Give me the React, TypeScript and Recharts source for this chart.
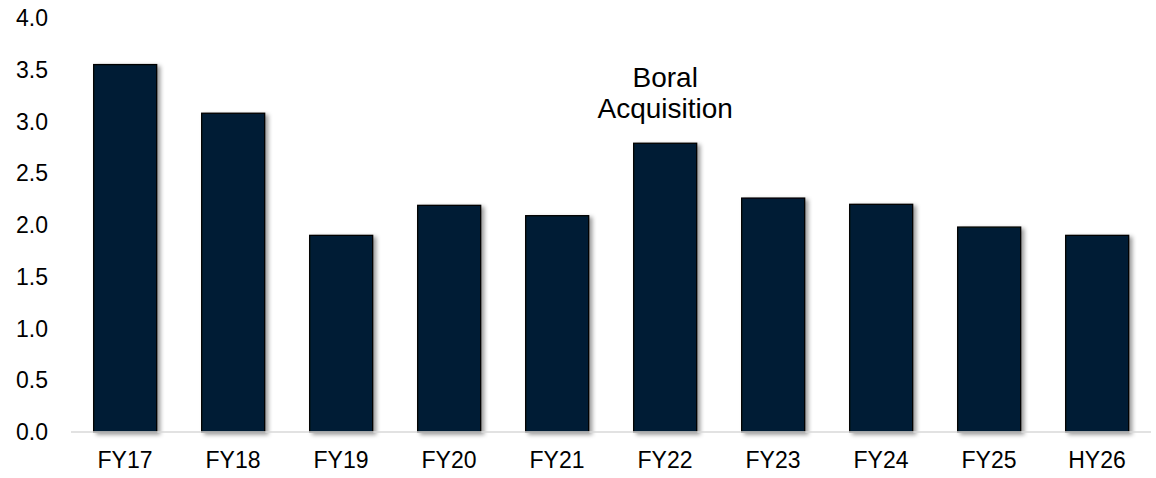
import React from "react";
import { BarChart, Bar, XAxis, YAxis, LabelList } from "recharts";

const categories = ["FY17", "FY18", "FY19", "FY20", "FY21", "FY22", "FY23", "FY24", "FY25", "HY26"];
const values = [3.55, 3.08, 1.9, 2.19, 2.09, 2.79, 2.26, 2.2, 1.98, 1.9];
const annotations = ["", "", "", "", "", "Boral|Acquisition", "", "", "", ""];
const yTicks = [0, 0.5, 1, 1.5, 2, 2.5, 3, 3.5, 4];

const data = categories.map((c, i) => ({ name: c, value: values[i], note: annotations[i] }));

const FONT = "'Liberation Sans', Arial, Helvetica, sans-serif";

const ShadowBar = (props: any) => {
  const { x, y, width, height, index } = props;
  if (!height || height <= 0) return null;
  const fid = `barShadow${index}`;
  return (
    <g>
      <defs>
        <filter id={fid} x="-20%" y="-20%" width="150%" height="150%">
          <feDropShadow dx={3} dy={2} stdDeviation={2} floodColor="#000" floodOpacity={0.4} />
        </filter>
      </defs>
      <rect
        x={x}
        y={y}
        width={width}
        height={height}
        fill="#021b34"
        stroke="#000000"
        strokeWidth={1.3}
        filter={`url(#${fid})`}
      />
    </g>
  );
};

const NoteLabel = (props: any) => {
  const { x, y, width, value } = props;
  if (!value) return null;
  const lines = String(value).split("|");
  const cx = x + width / 2;
  return (
    <text x={cx} y={y - 25} textAnchor="middle" fontSize={28} fill="#000" fontFamily={FONT}>
      {lines.map((l, i) => (
        <tspan key={i} x={cx} dy={i === 0 ? -31.6 * (lines.length - 1) : 31.6}>
          {l}
        </tspan>
      ))}
    </text>
  );
};

export default function App() {
  return (
    <div style={{ position: "absolute", left: 0, top: 0, width: 1156, height: 478, background: "#fff" }}>
      <BarChart
        width={1156}
        height={478}
        data={data}
        margin={{ top: 18, right: 5, left: 0, bottom: 0 }}
        barCategoryGap="21%"
      >
        <XAxis
          dataKey="name"
          height={46}
          tickLine={false}
          tickSize={0}
          tickMargin={20}
          axisLine={{ stroke: "#d9d9d9", strokeWidth: 1.5 }}
          tick={{ fontSize: 23, fill: "#000", fontFamily: FONT }}
          interval={0}
        />
        <YAxis
          width={71}
          domain={[0, 4]}
          ticks={yTicks}
          axisLine={false}
          tickLine={false}
          tickSize={0}
          tickMargin={23}
          tickFormatter={(v: number) => v.toFixed(1)}
          tick={{ fontSize: 23, fill: "#000", fontFamily: FONT }}
        />
        <Bar dataKey="value" shape={<ShadowBar />} isAnimationActive={false}>
          <LabelList dataKey="note" content={<NoteLabel />} />
        </Bar>
      </BarChart>
    </div>
  );
}
